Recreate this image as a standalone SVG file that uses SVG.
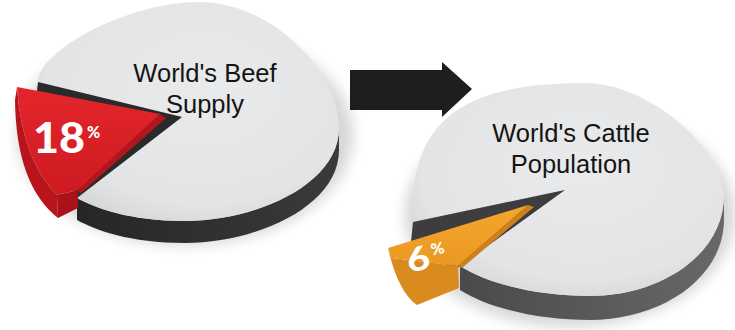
<svg xmlns="http://www.w3.org/2000/svg" width="735" height="330" viewBox="0 0 735 330">
<defs>
  <style>
    .lbl{font-family:"Liberation Sans",Arial,sans-serif;font-size:25.5px;fill:#141414;text-anchor:middle}
    .pct{font-family:Lato,Roboto,"Liberation Sans",sans-serif;font-weight:900;fill:#ffffff}
    .face{fill:url(#faceG)}
    .shadow{fill:#000;opacity:0.16;filter:url(#soft)}
  </style>
  <radialGradient id="faceG" cx="0.55" cy="0.4" r="0.65">
    <stop offset="0" stop-color="#e9eaeb"/>
    <stop offset="0.8" stop-color="#e2e4e5"/>
    <stop offset="1" stop-color="#d5d7d8"/>
  </radialGradient>
  <linearGradient id="sideL" x1="0" y1="0" x2="1" y2="0">
    <stop offset="0" stop-color="#262626"/>
    <stop offset="1" stop-color="#3a3a3a"/>
  </linearGradient>
  <linearGradient id="sideR" x1="0" y1="0" x2="1" y2="0">
    <stop offset="0" stop-color="#4a4a4c"/>
    <stop offset="1" stop-color="#67686a"/>
  </linearGradient>
  <linearGradient id="redG" x1="0" y1="0" x2="0" y2="1">
    <stop offset="0" stop-color="#e4262c"/>
    <stop offset="1" stop-color="#cd1a21"/>
  </linearGradient>
  <linearGradient id="orgG" x1="0" y1="0" x2="0" y2="1">
    <stop offset="0" stop-color="#f5a62d"/>
    <stop offset="1" stop-color="#ea9822"/>
  </linearGradient>
  <filter id="soft" x="-20%" y="-20%" width="140%" height="140%">
    <feGaussianBlur stdDeviation="7"/>
  </filter>
</defs>
<rect width="735" height="330" fill="#ffffff"/>

<g id="pie-beef">
  <ellipse class="shadow" cx="185" cy="135" rx="168" ry="110"/>
  <path d="M339,128 L339,150 C339,207 255,243 185,243 C130,243 95,230 77,220 L77,198 C95,208 130,221 185,221 C255,221 339,185 339,128 Z" fill="url(#sideL)"/>
  <path class="face" d="M182,117 L38,82 C38,52 125,2 200,2 C270,2 339,70 339,128 C339,185 255,221 185,221 C130,221 95,208 77,198 Z"/>
  <path d="M182,117 L38,82 L36,100 L60,170 L77,198 Z" fill="#2a2a2a"/>
  <g id="slice-18">
    <path d="M17,87 Q22,160 57,195 L58,218 Q16,185 15,100 Z" fill="#b8141b"/>
    <path d="M57,195 L78,190 L78,208 L58,218 Z" fill="#a8121a"/>
    <path d="M160,114 L166,118 L80,194 L78,190 Z" fill="#b3151c"/>
    <path d="M17,87 L160,114 L78,190 L57,195 Q22,160 17,87 Z" fill="url(#redG)"/>
    <text class="pct" x="33" y="153" font-size="42" textLength="52" lengthAdjust="spacingAndGlyphs">18</text>
    <text class="pct" x="87" y="138" font-size="16">%</text>
  </g>
  <text class="lbl" x="205" y="82">World's Beef</text>
  <text class="lbl" x="205" y="113">Supply</text>
</g>

<g id="pie-cattle">
  <ellipse class="shadow" cx="570" cy="215" rx="165" ry="112"/>
  <path d="M724,195 L724,219 C724,279 660,320 590,320 C540,320 490,309 460,290 L460,266 C490,285 540,296 590,296 C660,296 724,255 724,195 Z" fill="url(#sideR)"/>
  <path class="face" d="M565,190 L413,222 C408,115 470,83 585,83 C650,83 724,150 724,195 C724,255 660,296 590,296 C540,296 490,285 460,266 Z"/>
  <path d="M565,190 L413,222 L411,242 L455,270 L460,266 Z" fill="#3d3d3f"/>
  <g id="slice-6">
    <path d="M388,248 L392,258 L458,266 L459,288 L417,305 Q398,292 388,248 Z" fill="#d98b1f"/>
    <path d="M528,205 L534,207 L462,268 L458,266 Z" fill="#cf8118"/>
    <path d="M388,248 L528,205 L458,266 L392,258 Z" fill="url(#orgG)"/>
    <g transform="rotate(-12 430 255)">
      <text class="pct" x="406" y="268" font-size="33" textLength="23" lengthAdjust="spacingAndGlyphs">6</text>
      <text class="pct" x="432" y="256" font-size="16">%</text>
    </g>
  </g>
  <text class="lbl" x="571" y="141.5">World's Cattle</text>
  <text class="lbl" x="571" y="173">Population</text>
</g>

<g id="connectors">
  <path d="M350,70 L442,70 L442,62 L472,89 L442,117 L442,110 L350,110 Z" fill="#1e1f1d"/>
</g>
</svg>
